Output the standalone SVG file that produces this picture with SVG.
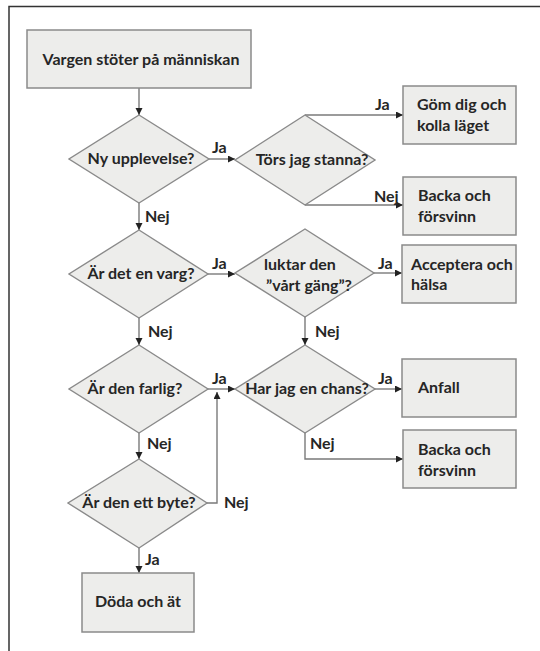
<svg xmlns="http://www.w3.org/2000/svg" width="540" height="651" viewBox="0 0 540 651">
<defs>
<marker id="ah" markerUnits="userSpaceOnUse" markerWidth="8" markerHeight="8" refX="7" refY="3.5" orient="auto">
<path d="M0,0 L7,3.5 L0,7 z" fill="#222"/>
</marker>
<style>
.box{fill:#ededeb;stroke:#8a8a8a;stroke-width:1.5}
.dia{fill:#ededeb;stroke:#8a8a8a;stroke-width:1.4}
.t{font-family:Lato,"Liberation Sans",sans-serif;font-weight:700;font-size:16px;fill:#262626}
.m{text-anchor:middle}
.c{fill:none;stroke:#7a7a7a;stroke-width:1.4}
.a{marker-end:url(#ah)}
.frame{fill:none;stroke:#333;stroke-width:1.5}
</style>
</defs>
<rect width="540" height="651" fill="#fff"/>
<path class="frame" d="M9,651 V6.5 H540"/>

<g id="connectors">
<path class="c a" d="M139,88 V115"/>
<path class="c a" d="M209,159 H235"/>
<path class="c a" d="M305,115 H403"/>
<path class="c a" d="M305,205 H403"/>
<path class="c a" d="M139,203 V230"/>
<path class="c a" d="M208,274 H235"/>
<path class="c a" d="M374,273 H402"/>
<path class="c a" d="M139,318 V345"/>
<path class="c a" d="M305,317 V345"/>
<path class="c a" d="M208,389 H235"/>
<path class="c a" d="M375,389 H402"/>
<path class="c a" d="M139,433 V459"/>
<path class="c a" d="M305,433 V459 H403"/>
<path class="c a" d="M207,503 H217 V392"/>
<path class="c a" d="M139,548 V573"/>
<text class="t" x="212" y="153">Ja</text>
<text class="t" x="375" y="110">Ja</text>
<text class="t" x="374" y="202">Nej</text>
<text class="t" x="145" y="222">Nej</text>
<text class="t" x="212" y="269">Ja</text>
<text class="t" x="378" y="269">Ja</text>
<text class="t" x="148" y="337">Nej</text>
<text class="t" x="315" y="337">Nej</text>
<text class="t" x="212" y="384">Ja</text>
<text class="t" x="378" y="384">Ja</text>
<text class="t" x="147" y="449">Nej</text>
<text class="t" x="310" y="449">Nej</text>
<text class="t" x="224" y="508">Nej</text>
<text class="t" x="145" y="565">Ja</text>
</g>

<g id="start">
<rect class="box" x="27" y="30" width="224" height="58"/>
<text class="t m" x="141" y="65">Vargen stöter på människan</text>
</g>
<g id="d1">
<polygon class="dia" points="139,115 209,159 139,203 69,159"/>
<text class="t m" x="141" y="164">Ny upplevelse?</text>
</g>
<g id="d2">
<polygon class="dia" points="305,115 375,160 305,205 235,160"/>
<text class="t m" x="312" y="165">Törs jag stanna?</text>
</g>
<g id="b1">
<rect class="box" x="403" y="86" width="113" height="58"/>
<text class="t" x="417" y="110">Göm dig och</text>
<text class="t" x="417" y="131">kolla läget</text>
</g>
<g id="b2">
<rect class="box" x="403" y="177" width="113" height="58"/>
<text class="t" x="418" y="201">Backa och</text>
<text class="t" x="418" y="222">försvinn</text>
</g>
<g id="d3">
<polygon class="dia" points="139,230 208,274 139,318 69,274"/>
<text class="t m" x="141" y="279">Är det en varg?</text>
</g>
<g id="d4">
<polygon class="dia" points="305,229 374,273 305,317 235,273"/>
<text class="t m" x="300" y="270">luktar den</text>
<text class="t m" x="309" y="291">”vårt gäng”?</text>
</g>
<g id="b3">
<rect class="box" x="402" y="245" width="114" height="58"/>
<text class="t" x="411" y="270">Acceptera och</text>
<text class="t" x="411" y="290">hälsa</text>
</g>
<g id="d5">
<polygon class="dia" points="139,345 208,389 139,433 69,389"/>
<text class="t m" x="135" y="394">Är den farlig?</text>
</g>
<g id="d6">
<polygon class="dia" points="305,345 375,389 305,433 235,389"/>
<text class="t m" x="307" y="394">Har jag en chans?</text>
</g>
<g id="b4">
<rect class="box" x="402" y="359" width="114" height="58"/>
<text class="t" x="418" y="393">Anfall</text>
</g>
<g id="b5">
<rect class="box" x="403" y="430" width="113" height="58"/>
<text class="t" x="418" y="455">Backa och</text>
<text class="t" x="418" y="476">försvinn</text>
</g>
<g id="d7">
<polygon class="dia" points="139,459 207,503 139,548 68,503"/>
<text class="t m" x="139" y="508">Är den ett byte?</text>
</g>
<g id="b6">
<rect class="box" x="82" y="573" width="112" height="59"/>
<text class="t m" x="138" y="607">Döda och ät</text>
</g>
</svg>
